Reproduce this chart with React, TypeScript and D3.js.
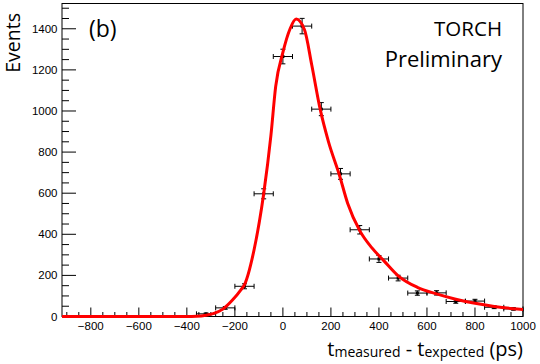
import React from "react";
import * as d3 from "d3";

// Histogram bins (centres, ps) and counts
const binCenters = [-880, -800, -720, -640, -560, -480, -400, -320, -240, -160, -80, 0, 80, 160, 240, 320, 400, 480, 560, 640, 720, 800, 880, 960];
const binCounts = [0, 0, 0, 0, 0, 0, 0, 13, 42, 147, 597, 1265, 1413, 1009, 694, 422, 280, 187, 114, 115, 73, 75, 45, 37];
const binHalfWidth = 40;

// Fit curve
const fitX = [-920, -400, -360, -320, -290, -250, -210, -175, -160, -120, -80, -50, -30, 0, 30, 55, 90, 120, 155, 190, 235, 270, 320, 370, 420, 480, 560, 640, 720, 800, 880, 960, 1000];
const fitY = [0, 0, 1, 6, 14, 36, 80, 130, 155, 325, 597, 880, 1120, 1285, 1400, 1447, 1395, 1225, 1010, 850, 690, 550, 418, 335, 272, 198, 142, 110, 84, 64, 49, 38, 34];

const xMajorTicks = [-800, -600, -400, -200, 0, 200, 400, 600, 800, 1000];
const yMajorTicks = [0, 200, 400, 600, 800, 1000, 1200, 1400];

const W = 540, H = 364;
const L = 62, R = 523, T = 3.5, B = 316.5;
const FONT = "'Open Sans', sans-serif";
const TICKFONT = "'Liberation Sans', Arial, sans-serif";

export default function App() {
  const x = d3.scaleLinear().domain([-920, 1000]).range([L, R]);
  const y = d3.scaleLinear().domain([0, 1523]).range([B, T]);

  const xMinor = d3.range(-900, 1001, 50).filter((v) => v % 200 !== 0);
  const yMinor = d3.range(0, 1523, 50).filter((v) => v % 200 !== 0);

  const fitPts: [number, number][] = fitX.map((v, i) => [v, fitY[i]]);
  const line = d3
    .line<[number, number]>()
    .x((d) => x(d[0]))
    .y((d) => y(d[1]))
    .curve(d3.curveMonotoneX);

  const cap = 2.5;
  const fmt = (v: number) => (v < 0 ? "\u2212" + Math.abs(v) : String(v));

  return (
    <svg width={W} height={H} style={{ position: "absolute", left: 0, top: 0, background: "#fff" }}>
      <rect x={0} y={0} width={W} height={H} fill="#fff" />
      <defs>
        <clipPath id="plotclip">
          <rect x={L} y={T} width={R - L} height={B - T + 2} />
        </clipPath>
      </defs>

      {/* frame */}
      <rect x={L} y={T} width={R - L} height={B - T} fill="none" stroke="#000" strokeWidth={1} />

      {/* ticks */}
      <g stroke="#000" strokeWidth={1}>
        {xMajorTicks.map((v) => (
          <line key={"xM" + v} x1={x(v)} x2={x(v)} y1={B} y2={B - 9} />
        ))}
        {xMinor.map((v) => (
          <line key={"xm" + v} x1={x(v)} x2={x(v)} y1={B} y2={B - 4.5} />
        ))}
        {yMajorTicks.map((v) => (
          <line key={"yM" + v} x1={L} x2={L + 14} y1={y(v)} y2={y(v)} />
        ))}
        {yMinor.map((v) => (
          <line key={"ym" + v} x1={L} x2={L + 7} y1={y(v)} y2={y(v)} />
        ))}
      </g>

      {/* data points with error bars */}
      <g stroke="#000" strokeWidth={1}>
        {binCenters.map((c, i) => {
          const n = binCounts[i];
          if (n <= 0) return null;
          const e = Math.sqrt(n);
          const cx = x(c), cy = y(n);
          const x0 = x(c - binHalfWidth), x1 = x(c + binHalfWidth);
          const yt = y(n + e), yb = y(n - e);
          return (
            <g key={i}>
              <line x1={x0} x2={x1} y1={cy} y2={cy} />
              <line x1={x0} x2={x0} y1={cy - cap} y2={cy + cap} />
              <line x1={x1} x2={x1} y1={cy - cap} y2={cy + cap} />
              <line x1={cx} x2={cx} y1={yt} y2={yb} />
              <line x1={cx - cap} x2={cx + cap} y1={yt} y2={yt} />
              <line x1={cx - cap} x2={cx + cap} y1={yb} y2={yb} />
              <rect x={cx - 1.5} y={cy - 1.5} width={3} height={3} fill="#000" stroke="none" />
            </g>
          );
        })}
      </g>

      {/* fit */}
      <path d={line(fitPts) || ""} fill="none" stroke="#ff0000" strokeWidth={3} clipPath="url(#plotclip)" />

      {/* tick labels */}
      <g fontFamily={TICKFONT} fontSize={11.5} fill="#000">
        {xMajorTicks.map((v) => (
          <text key={"xl" + v} x={x(v)} y={330} textAnchor="middle">
            {fmt(v)}
          </text>
        ))}
        {yMajorTicks.map((v) => (
          <text key={"yl" + v} x={57.5} y={y(v) + 4} textAnchor="end">
            {fmt(v)}
          </text>
        ))}
      </g>

      {/* axis titles */}
      <text
        transform="translate(20,13) rotate(-90)"
        textAnchor="end"
        fontFamily={FONT}
        fontSize={19.5}
        fill="#000"
      >
        Events
      </text>
      <text x={R} y={356} textAnchor="end" fontFamily={FONT} fontSize={20} fill="#000">
        <tspan>t</tspan>
        <tspan fontSize={14} dy={1}>measured</tspan>
        <tspan dy={-1}> - t</tspan>
        <tspan fontSize={14} dy={1}>expected</tspan>
        <tspan dy={-1}> (ps)</tspan>
      </text>

      {/* labels */}
      <text x={89} y={37} fontFamily={FONT} fontSize={23} fill="#000">
        (b)
      </text>
      <text x={502} y={36} textAnchor="end" fontFamily={FONT} fontSize={20.5} fill="#000">
        TORCH
      </text>
      <text x={502} y={67} textAnchor="end" fontFamily={FONT} fontSize={22} fill="#000">
        Preliminary
      </text>
    </svg>
  );
}
